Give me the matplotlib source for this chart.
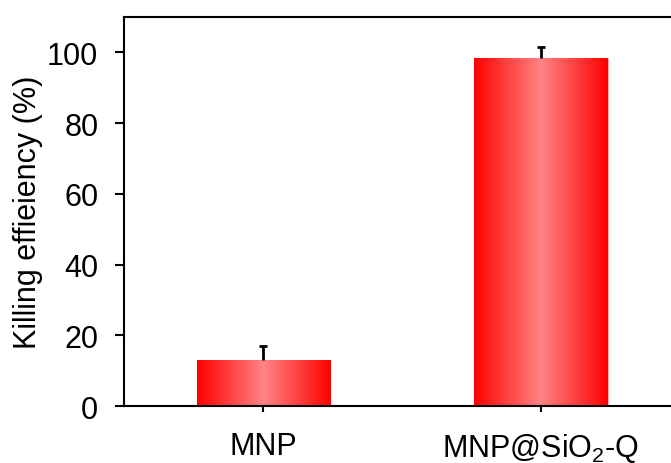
import matplotlib
matplotlib.use("Agg")
import matplotlib.pyplot as plt
import numpy as np

categories = ["MNP", "MNP@SiO$_2$-Q"]
values = [13.0, 98.3]
errors = [4.0, 3.1]
yticks = [0, 20, 40, 60, 80, 100]

plt.rcParams['font.family'] = ['Liberation Sans', 'DejaVu Sans']
plt.rcParams['mathtext.default'] = 'regular'
plt.rcParams['font.size'] = 22

fig = plt.figure(figsize=(6.71, 4.64), dpi=100)
ax = fig.add_axes([0.1848, 0.1228, 0.83, 0.8384])

x = np.arange(len(categories))
bars = ax.bar(x, values, width=0.48, color='#ff0000', edgecolor='#ffb0b0', linewidth=0.8, zorder=2)

# horizontal gradient: red at edges, light pink in the middle
t = np.linspace(0, 1, 256)
w = 1 - np.abs(2 * t - 1)
edge = np.array([1.0, 0.0, 0.0])
mid = np.array([1.0, 0.52, 0.52])
grad = edge[None, :] * (1 - w[:, None]) + mid[None, :] * w[:, None]
grad = grad[None, :, :]
for b in bars:
    x0, y0 = b.get_x(), b.get_y()
    im = ax.imshow(grad, extent=[x0, x0 + b.get_width(), y0, y0 + b.get_height()],
                   aspect='auto', zorder=2.5, interpolation='bilinear')
    im.set_clip_path(b)

eb = ax.errorbar(x, values, yerr=[[0] * len(values), errors], fmt='none', ecolor='black',
                 elinewidth=2, capsize=3, capthick=2, zorder=3)
# hide lower caps (only upper error shown)
eb[1][0].set_visible(False)

ax.set_xlim(-0.5027, 1.5045)
ax.set_ylim(0, 110)
ax.set_yticks(yticks)
ax.set_xticks(x)
ax.set_xticklabels(categories)
ax.set_ylabel("Killing effieiency (%)", labelpad=3)

for s in ax.spines.values():
    s.set_linewidth(1.5)
ax.tick_params(axis='y', direction='out', length=6.5, width=1.5, pad=12)
ax.tick_params(axis='x', direction='out', length=4, width=1.5, pad=14)

fig.savefig("out.png", dpi=100)
